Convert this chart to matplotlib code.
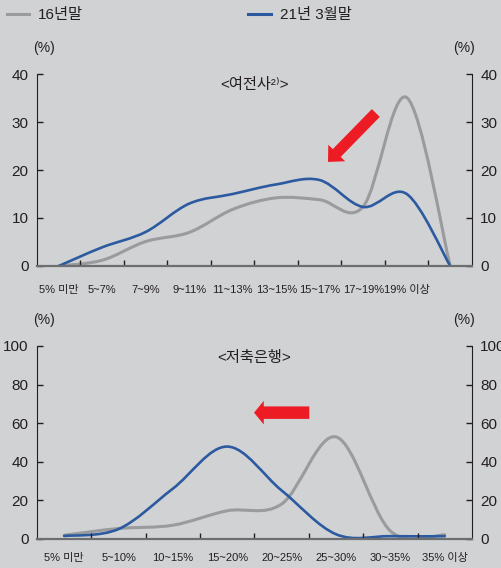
import matplotlib
matplotlib.use('Agg')
import matplotlib.pyplot as plt
import numpy as np
from matplotlib.path import Path
from matplotlib.patches import PathPatch
from matplotlib.lines import Line2D

# 글꼴: 숫자는 Liberation, 한글은 Noto CJK
plt.rcParams['font.family'] = ['Liberation Sans', 'Noto Sans CJK KR', 'DejaVu Sans']

# 여전사 (마지막 구간은 라벨 없음)
top_labels = ['5% 미만', '5~7%', '7~9%', '9~11%', '11~13%', '13~15%',
              '15~17%', '17~19%', '19% 이상', '']
top_16 = [0.0, 1.2, 5.1, 7.0, 11.8, 14.2, 13.8, 12.4, 35.1, 0.0]
top_21 = [0.0, 3.9, 7.1, 13.0, 15.0, 17.0, 17.9, 12.3, 15.0, 0.0]

# 저축은행
bot_labels = ['5% 미만', '5~10%', '10~15%', '15~20%', '20~25%', '25~30%',
              '30~35%', '35% 이상']
bot_16 = [1.8, 5.3, 7.0, 14.5, 18.0, 52.8, 4.0, 2.0]
bot_21 = [1.4, 5.0, 26.0, 47.8, 25.0, 2.3, 1.3, 1.3]

series_names = ['16년말', '21년 3월말']

bg = '#d1d2d4'
gray = '#9a9b9d'
blue = '#2c5aa0'
red = '#ed1c24'
dark = '#231f20'


def smooth_path(xs, ys):
    """엑셀식 부드러운 선 (Catmull-Rom -> 베지어)"""
    pts = np.column_stack([xs, ys]).astype(float)
    ext = np.vstack([pts[0], pts, pts[-1]])
    verts = [pts[0]]
    codes = [Path.MOVETO]
    for i in range(len(pts) - 1):
        p0, p1, p2, p3 = ext[i], ext[i + 1], ext[i + 2], ext[i + 3]
        verts += [p1 + (p2 - p0) / 6, p2 - (p3 - p1) / 6, p2]
        codes += [Path.CURVE4] * 3
    return Path(verts, codes)


def draw_line(ax, values, color, lw):
    xs = np.arange(len(values)) + 0.5
    ax.add_patch(PathPatch(smooth_path(xs, values), fill=False,
                           edgecolor=color, lw=lw, capstyle='round',
                           joinstyle='round'))


def setup(ax, labels, ymax, ystep, pad):
    n = len(labels)
    ax.set_facecolor(bg)
    ax.set_xlim(0, n)
    ax.set_ylim(0, ymax)
    ax.set_xticks(np.arange(1, n))
    ax.set_xticklabels([])
    ax.set_xticks(np.arange(n) + 0.5, minor=True)
    ax.set_xticklabels(labels, minor=True, fontsize=8, color=dark)
    ax.tick_params(axis='x', which='major', direction='in', length=4,
                   width=1, color=dark)
    ax.tick_params(axis='x', which='minor', length=0, pad=pad)
    ax.set_yticks(np.arange(0, ymax + 1, ystep))
    ax.tick_params(axis='y', direction='in', length=4, width=1, color=dark,
                   labelsize=11, labelcolor=dark, left=True, right=True,
                   labelleft=True, labelright=True, pad=6)
    ax.spines['top'].set_visible(False)
    ax.spines['left'].set_color(dark)
    ax.spines['right'].set_color(dark)
    ax.spines['bottom'].set_color('#6d6e70')
    ax.spines['bottom'].set_linewidth(1.6)
    ax.text(0.016, 1.135, '(%)', transform=ax.transAxes, ha='center',
            va='center', fontsize=10, color=dark)
    ax.text(0.982, 1.135, '(%)', transform=ax.transAxes, ha='center',
            va='center', fontsize=10, color=dark)


fig = plt.figure(figsize=(5.02, 5.68), dpi=100, facecolor=bg)

ax1 = fig.add_axes([0.0737, 0.5317, 0.8665, 0.338])
setup(ax1, top_labels, 40, 10, 13.5)
draw_line(ax1, top_16, gray, 2.2)
draw_line(ax1, top_21, blue, 1.9)
ax1.text(0.5, 0.943, '<여전사²⁾>', transform=ax1.transAxes, ha='center',
         va='center', fontsize=11, color=dark)
ax1.annotate('', xy=(0.669, 0.542), xytext=(0.779, 0.797),
             xycoords='axes fraction', textcoords='axes fraction',
             arrowprops=dict(arrowstyle='simple,head_length=9,head_width=17,tail_width=8',
                             mutation_scale=1, color=red, lw=0,
                             shrinkA=0, shrinkB=0))

ax2 = fig.add_axes([0.0737, 0.0516, 0.8665, 0.3393])
setup(ax2, bot_labels, 100, 20, 10)
draw_line(ax2, bot_16, gray, 2.2)
draw_line(ax2, bot_21, blue, 1.9)
ax2.text(0.5, 0.938, '<저축은행>', transform=ax2.transAxes, ha='center',
         va='center', fontsize=11, color=dark)
ax2.annotate('', xy=(0.499, 0.654), xytext=(0.626, 0.654),
             xycoords='axes fraction', textcoords='axes fraction',
             arrowprops=dict(arrowstyle='simple,head_length=7,head_width=17,tail_width=9',
                             mutation_scale=1, color=red, lw=0,
                             shrinkA=0, shrinkB=0))

handles = [Line2D([], [], color=gray, lw=2.2), Line2D([], [], color=blue, lw=2.2)]
fig.legend(handles, series_names, ncol=2, loc='upper left',
           bbox_to_anchor=(0.014, 0.986), frameon=False, borderpad=0,
           borderaxespad=0, handlelength=1.45, handletextpad=0.6,
           columnspacing=10.8, fontsize=11, labelcolor=dark)

fig.savefig('out.png', dpi=100, facecolor=bg)
